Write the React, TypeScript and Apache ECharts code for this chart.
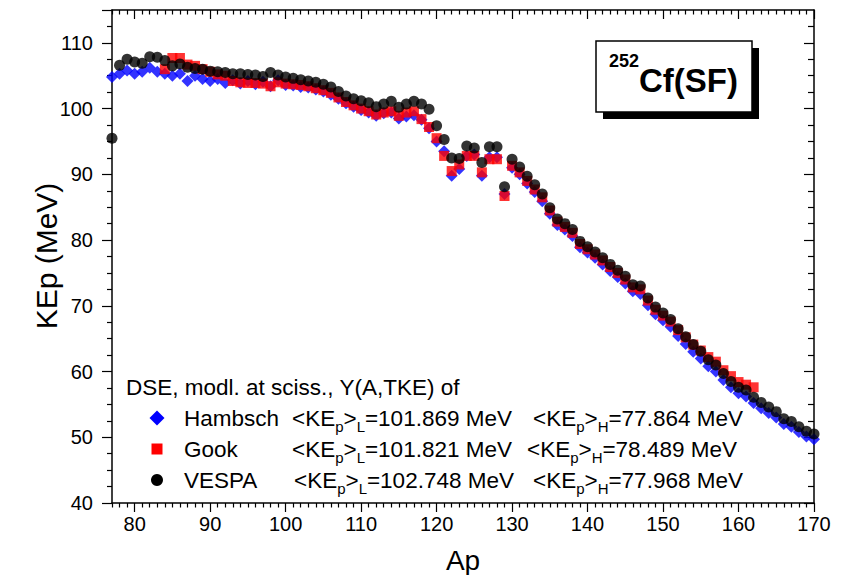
import React, { useEffect, useRef } from 'react';
import * as echarts from 'echarts';

const FONT = '"Liberation Sans", Arial, Helvetica, sans-serif';

// Mass numbers of the primary fragment (Ap)
const MASS = [
  77, 78, 79, 80, 81, 82, 83, 84, 85, 86, 87, 88, 89, 90, 91, 92, 93, 94, 95, 96,
  97, 98, 99, 100, 101, 102, 103, 104, 105, 106, 107, 108, 109, 110, 111, 112, 113,
  114, 115, 116, 117, 118, 119, 120, 121, 122, 123, 124, 125, 126, 127, 128, 129,
  130, 131, 132, 133, 134, 135, 136, 137, 138, 139, 140, 141, 142, 143, 144, 145,
  146, 147, 148, 149, 150, 151, 152, 153, 154, 155, 156, 157, 158, 159, 160, 161,
  162, 163, 164, 165, 166, 167, 168, 169, 170,
];

const HAMBSCH = [
  104.8, 105.3, 105.8, 105.3, 105.6, 106.2, 105.6, 105.3, 105.0, 105.3,
  104.2, 105.0, 104.5, 104.2, 104.5, 103.9, 104.3, 103.8, 104.2, 103.7,
  104.1, 103.4, 104.3, 103.6, 103.5, 103.3, 103.2, 102.9, 102.6, 102.1,
  101.5, 100.8, 100.3, 99.8, 99.4, 98.9, 99.3, 99.4, 98.5, 98.8,
  99.0, 98.3, 97.0, 95.0, 93.5, 89.8, 90.8, 92.8, 93.0, 89.8,
  92.6, 92.6, 87.0, 91.0, 90.0, 88.6, 87.3, 85.9, 84.0, 82.3,
  81.6, 80.6, 78.9, 78.1, 77.3, 76.3, 75.3, 74.4, 73.4, 72.2,
  71.8, 70.1, 68.7, 67.8, 66.8, 65.4, 64.2, 63.0, 62.0, 60.8,
  60.0, 58.7, 57.6, 56.7, 56.2, 55.2, 54.4, 53.7, 53.0, 52.0,
  51.6, 50.8, 50.1, 49.7,
];

const GOOK_MASS = [
  84, 85, 86, 87, 88, 89, 90, 91, 92, 93, 94, 95, 96, 97, 98, 99, 100, 101, 102,
  103, 104, 105, 106, 107, 108, 109, 110, 111, 112, 113, 114, 115, 116, 117, 118,
  119, 120, 121, 122, 123, 124, 125, 126, 127, 128, 129, 130, 131, 132, 133, 134,
  135, 136, 137, 138, 139, 140, 141, 142, 143, 144, 145, 146, 147, 148, 149, 150,
  151, 152, 153, 154, 155, 156, 157, 158, 159, 160, 161, 162,
];

const GOOK = [
  106.0, 107.7, 107.7, 106.7, 106.5, 106.0, 105.6, 105.2, 105.0, 104.2,
  104.0, 103.9, 103.9, 103.8, 103.4, 104.0, 103.8, 103.7, 103.6, 103.4,
  103.1, 102.8, 102.4, 101.7, 101.0, 100.5, 100.0, 99.6, 99.1, 99.4,
  99.6, 98.9, 99.4, 99.6, 98.4, 97.2, 95.5, 92.8, 90.5, 91.5,
  92.8, 92.8, 90.3, 92.3, 92.3, 86.7, 91.3, 90.3, 89.0, 87.7,
  86.5, 84.5, 82.8, 82.0, 81.1, 79.4, 78.6, 77.8, 76.9, 75.9,
  75.0, 74.0, 72.8, 72.5, 70.8, 69.4, 68.5, 67.6, 66.3, 65.2,
  64.1, 63.2, 62.2, 61.5, 60.2, 59.3, 58.4, 58.0, 57.6,
];

const VESPA = [
  95.5, 106.6, 107.5, 107.1, 106.9, 107.9, 107.8, 107.3, 106.5, 106.8,
  106.3, 106.1, 106.0, 105.7, 105.6, 105.5, 105.3, 105.3, 105.2, 105.1,
  104.9, 105.5, 105.1, 104.8, 104.6, 104.4, 104.2, 104.0, 103.7, 103.3,
  102.6, 101.9, 101.5, 101.2, 100.9, 100.3, 100.7, 101.1, 100.2, 100.7,
  101.1, 100.7, 99.9, 97.4, 95.3, 92.5, 92.4, 94.3, 94.0, 91.8,
  94.2, 94.2, 88.1, 92.3, 91.1, 89.7, 88.4, 87.0, 84.9, 83.2,
  82.5, 81.6, 79.8, 79.0, 78.2, 77.3, 76.3, 75.4, 74.5, 73.2,
  73.0, 71.2, 69.8, 68.9, 67.9, 66.5, 65.3, 64.1, 63.1, 61.8,
  61.0, 59.7, 58.5, 57.6, 57.2, 56.1, 55.3, 54.6, 53.9, 52.8,
  52.4, 51.6, 50.9, 50.5,
];

const X_LABELS = [80, 90, 100, 110, 120, 130, 140, 150, 160, 170];
const Y_LABELS = [40, 50, 60, 70, 80, 90, 100, 110];

const LEGEND_TITLE = 'DSE, modl. at sciss., Y(A,TKE) of';
const LEGEND_NAMES = ['Hambsch', 'Gook', 'VESPA'];
const KE_LIGHT = ['101.869', '101.821', '102.748'];
const KE_HEAVY = ['77.864', '78.489', '77.968'];

const X_MIN = 77;
const X_MAX = 170;
const Y_MIN = 40;
const Y_MAX = 115;

const xMinorTicks: number[] = [];
for (let v = X_MIN; v <= X_MAX; v++) if (v % 10 !== 0) xMinorTicks.push(v);
const yMajorTicks = [...Y_LABELS, 115];
const yMinorTicks: number[] = [];
for (let v = Y_MIN; v <= Y_MAX; v += 2.5) if (v % 10 !== 0 && v !== 115) yMinorTicks.push(v);

const BLACK = '#000000';

function xAxisDef(position: 'top' | 'bottom', ticks: number[], len: number, inside: boolean, labels: boolean, line: boolean) {
  return {
    type: 'value',
    position,
    min: X_MIN,
    max: X_MAX,
    axisLine: { show: line, onZero: false, lineStyle: { color: BLACK, width: 1.5 } },
    axisTick: { show: true, inside, length: len, customValues: ticks, lineStyle: { color: BLACK, width: 1.2 } },
    axisLabel: labels
      ? { show: true, customValues: X_LABELS, color: BLACK, fontSize: 20, fontFamily: FONT, margin: 11 }
      : { show: false },
    splitLine: { show: false },
  };
}

function yAxisDef(position: 'left' | 'right', ticks: number[], len: number, inside: boolean, labels: boolean, line: boolean) {
  return {
    type: 'value',
    position,
    min: Y_MIN,
    max: Y_MAX,
    axisLine: { show: line, onZero: false, lineStyle: { color: BLACK, width: 1.5 } },
    axisTick: { show: true, inside, length: len, customValues: ticks, lineStyle: { color: BLACK, width: 1.2 } },
    axisLabel: labels
      ? { show: true, customValues: Y_LABELS, color: BLACK, fontSize: 20, fontFamily: FONT, margin: 19 }
      : { show: false },
    splitLine: { show: false },
  };
}

const subStyle = { fontSize: 15, fontFamily: FONT, fill: BLACK, padding: [17, 0, 0, 0] };

function keText(tag: string, value: string) {
  return `<KE{s|p}>{s|${tag}}=${value} MeV`;
}

export default function App() {
  const ref = useRef<HTMLDivElement>(null);

  useEffect(() => {
    if (!ref.current) return;
    const chart = echarts.init(ref.current, undefined, { renderer: 'svg' });

    const rowY = [418, 449, 480];
    const col1X = [292, 292, 294];
    const col2X = [533, 527, 533];
    const legendGraphics: any[] = [];
    legendGraphics.push({
      type: 'text',
      x: 126,
      y: 387,
      style: { text: LEGEND_TITLE, fontSize: 22.5, fontFamily: FONT, fill: BLACK, align: 'left', verticalAlign: 'middle' },
    });
    const markers = [
      { type: 'polygon', shape: { points: [[157, 418 - 7.5], [164.5, 418], [157, 418 + 7.5], [149.5, 418]] }, style: { fill: '#0000ff' } },
      { type: 'rect', shape: { x: 151.5, y: 449 - 5.5, width: 11, height: 11 }, style: { fill: '#ff0000' } },
      { type: 'circle', shape: { cx: 157, cy: 480, r: 6 }, style: { fill: BLACK } },
    ];
    legendGraphics.push(...markers);
    LEGEND_NAMES.forEach((name, i) => {
      legendGraphics.push({
        type: 'text',
        x: 184,
        y: rowY[i],
        style: { text: name, fontSize: 22.5, fontFamily: FONT, fill: BLACK, align: 'left', verticalAlign: 'middle' },
      });
      legendGraphics.push({
        type: 'text',
        x: col1X[i],
        y: rowY[i],
        style: {
          text: keText('L', KE_LIGHT[i]),
          fontSize: 22.5,
          fontFamily: FONT,
          fill: BLACK,
          align: 'left',
          verticalAlign: 'middle',
          rich: { s: subStyle },
        },
      });
      legendGraphics.push({
        type: 'text',
        x: col2X[i],
        y: rowY[i],
        style: {
          text: keText('H', KE_HEAVY[i]),
          fontSize: 22.5,
          fontFamily: FONT,
          fill: BLACK,
          align: 'left',
          verticalAlign: 'middle',
          rich: { s: subStyle },
        },
      });
    });

    const option: any = {
      animation: false,
      backgroundColor: '#ffffff',
      grid: { left: 112, right: 38, top: 10, bottom: 72, containLabel: false },
      xAxis: [
        xAxisDef('bottom', X_LABELS, 9, false, true, true),
        xAxisDef('bottom', xMinorTicks, 4.5, false, false, false),
        xAxisDef('top', X_LABELS, 9, true, false, true),
        xAxisDef('top', xMinorTicks, 4.5, true, false, false),
      ],
      yAxis: [
        yAxisDef('left', yMajorTicks, 10, false, true, true),
        yAxisDef('left', yMinorTicks, 5, false, false, false),
        yAxisDef('right', Y_LABELS, 10, true, false, true),
        yAxisDef('right', yMinorTicks, 6, true, false, false),
      ],
      series: [
        {
          type: 'scatter',
          name: 'Hambsch',
          xAxisIndex: 0,
          yAxisIndex: 0,
          data: MASS.map((a, i) => [a, HAMBSCH[i]]),
          symbol: 'diamond',
          symbolSize: 12,
          clip: false,
          itemStyle: { color: '#0000ff' },
        },
        {
          type: 'scatter',
          name: 'Gook',
          xAxisIndex: 0,
          yAxisIndex: 0,
          data: GOOK_MASS.map((a, i) => [a, GOOK[i]]),
          symbol: 'rect',
          symbolSize: 10,
          clip: false,
          itemStyle: { color: '#ff0000' },
        },
        {
          type: 'scatter',
          name: 'VESPA',
          xAxisIndex: 0,
          yAxisIndex: 0,
          data: MASS.map((a, i) => [a, VESPA[i]]),
          symbol: 'circle',
          symbolSize: 11,
          clip: false,
          itemStyle: { color: BLACK },
        },
      ],
      graphic: [
        {
          type: 'text',
          x: 463,
          y: 560,
          style: { text: 'Ap', fontSize: 28, fontFamily: FONT, fill: BLACK, align: 'center', verticalAlign: 'middle' },
        },
        {
          type: 'text',
          x: 46,
          y: 256,
          rotation: Math.PI / 2,
          style: { text: 'KEp (MeV)', fontSize: 30, fontFamily: FONT, fill: BLACK, align: 'center', verticalAlign: 'middle' },
        },
        { type: 'rect', shape: { x: 603, y: 48, width: 156, height: 71 }, style: { fill: BLACK } },
        { type: 'rect', shape: { x: 596, y: 41, width: 156, height: 71 }, style: { fill: '#ffffff', stroke: BLACK, lineWidth: 1.5 } },
        {
          type: 'text',
          x: 609,
          y: 60.5,
          style: { text: '252', fontSize: 18, fontWeight: 'bold', fontFamily: FONT, fill: BLACK, align: 'left', verticalAlign: 'middle' },
        },
        {
          type: 'text',
          x: 639,
          y: 80.5,
          style: { text: 'Cf(SF)', fontSize: 33, fontWeight: 'bold', fontFamily: FONT, fill: BLACK, align: 'left', verticalAlign: 'middle' },
        },
        ...legendGraphics,
      ],
    };

    chart.setOption(option);
    return () => chart.dispose();
  }, []);

  return (
    <div
      ref={ref}
      style={{ position: 'fixed', left: 0, top: 0, width: 852, height: 575, background: '#fff' }}
    />
  );
}
